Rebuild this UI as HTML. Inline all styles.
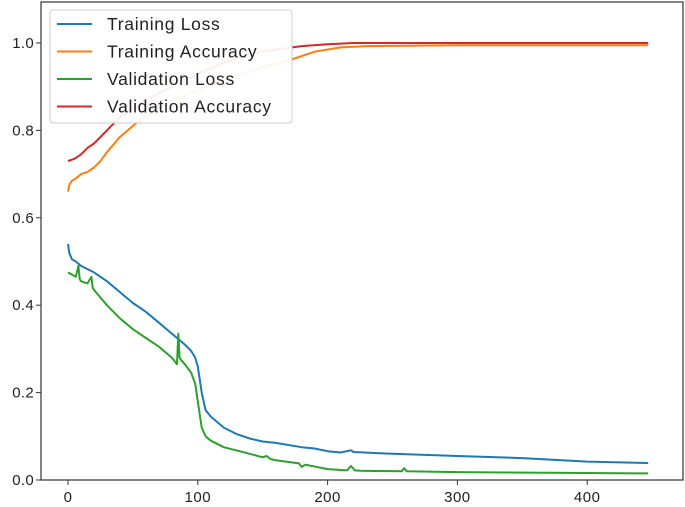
<!DOCTYPE html>
<html><head><meta charset="utf-8"><style>
html,body{margin:0;padding:0;background:#fff}
svg{display:block;font-family:"Liberation Sans","DejaVu Sans",sans-serif}
</style></head><body>
<svg id="chart" width="685" height="507"></svg>
<script>
const xTicks=[0,100,200,300,400];
const yTicks=[0.0,0.2,0.4,0.6,0.8,1.0];
const yTickLabels=["0.0","0.2","0.4","0.6","0.8","1.0"];
const seriesNames=["Training Loss","Training Accuracy","Validation Loss","Validation Accuracy"];
const trainLossEpochs=[0,1,3,6,10,20,30,40,50,60,70,80,90,95,98,100,103,106,110,120,130,140,150,160,180,190,200,210,218,220,250,300,350,400,447];
const trainLossValues=[0.54,0.52,0.505,0.50,0.49,0.475,0.455,0.43,0.405,0.385,0.36,0.335,0.31,0.295,0.28,0.26,0.2,0.16,0.145,0.12,0.105,0.095,0.088,0.085,0.075,0.072,0.066,0.063,0.068,0.064,0.06,0.055,0.05,0.042,0.039];
const trainAccEpochs=[0,1,3,6,10,15,20,25,30,40,50,60,75,90,110,130,150,170,190,210,230,300,400,447];
const trainAccValues=[0.66,0.675,0.685,0.69,0.70,0.705,0.715,0.73,0.75,0.785,0.81,0.835,0.86,0.88,0.905,0.925,0.945,0.96,0.98,0.99,0.993,0.995,0.995,0.995];
const valLossEpochs=[0,3,6,8,9,10,15,18,19,20,30,40,50,60,70,80,84,85,86,87,90,95,98,100,103,106,110,120,140,150,153,156,160,178,180,183,200,215,218,221,225,257,259,261,300,400,447];
const valLossValues=[0.475,0.47,0.465,0.49,0.46,0.455,0.45,0.465,0.44,0.435,0.40,0.37,0.345,0.325,0.305,0.28,0.265,0.335,0.28,0.275,0.265,0.245,0.22,0.18,0.12,0.1,0.09,0.075,0.06,0.052,0.055,0.048,0.045,0.038,0.03,0.035,0.025,0.022,0.032,0.022,0.021,0.02,0.027,0.02,0.018,0.016,0.015];
const valAccEpochs=[0,5,10,15,20,25,30,40,50,60,80,100,120,140,160,180,200,220,447];
const valAccValues=[0.73,0.735,0.745,0.76,0.77,0.785,0.80,0.83,0.85,0.87,0.90,0.93,0.955,0.975,0.985,0.993,0.997,1.0,1.0];

const L=41,R=683,T=2,B=480;
const xs=v=>68+v*1.298;
const ys=v=>480-v*437;
const NS="http://www.w3.org/2000/svg";
const svg=document.getElementById('chart');
function mk(tag,attrs,parent){const e=document.createElementNS(NS,tag);for(const k in attrs)e.setAttribute(k,attrs[k]);(parent||svg).appendChild(e);return e;}

const colors=["#1f77b4","#ff7f0e","#2ca02c","#d62728"];
const series=[[trainLossEpochs,trainLossValues],[trainAccEpochs,trainAccValues],[valLossEpochs,valLossValues],[valAccEpochs,valAccValues]];
const lineNames=["training-loss-line","training-accuracy-line","validation-loss-line","validation-accuracy-line"];
series.forEach((s,i)=>{
  const d=s[0].map((x,j)=>(j?'L':'M')+xs(x).toFixed(1)+','+ys(s[1][j]).toFixed(1)).join('');
  const p=mk('path',{d:d,fill:'none',stroke:colors[i],'stroke-width':2,'stroke-linejoin':'round'});
  
  
});

const frame=mk('rect',{x:L,y:T,width:R-L,height:B-T,fill:'none',stroke:'#333','stroke-width':1.2});



xTicks.forEach(t=>{
  const ln=mk('line',{x1:xs(t),x2:xs(t),y1:B,y2:B+5,stroke:'#333'});
  
  
  const tx=mk('text',{x:xs(t),y:B+22,'text-anchor':'middle','font-size':15,'letter-spacing':0.5,fill:'#222'});
  tx.textContent=t;
  
  
});
yTicks.forEach((t,i)=>{
  const ln=mk('line',{x1:L-5,x2:L,y1:ys(t),y2:ys(t),stroke:'#333'});
  
  
  const tx=mk('text',{x:L-7,y:ys(t)+5,'text-anchor':'end','font-size':15,'letter-spacing':0.3,fill:'#222'});
  tx.textContent=yTickLabels[i];
  
  
});

const lg=mk('g',{});


mk('rect',{x:50,y:10,width:242,height:113,rx:3,fill:'rgba(255,255,255,0.92)',stroke:'#ccc'},lg);
seriesNames.forEach((n,i)=>{
  const y=24+i*27.5;
  const g=mk('g',{},lg);
  
  
  mk('line',{x1:57,x2:92,y1:y,y2:y,stroke:colors[i],'stroke-width':2},g);
  const tx=mk('text',{x:107,y:y+6,'font-size':17.5,'letter-spacing':0.7,fill:'#222'},g);
  tx.textContent=n;
});
</script>
</body></html>
